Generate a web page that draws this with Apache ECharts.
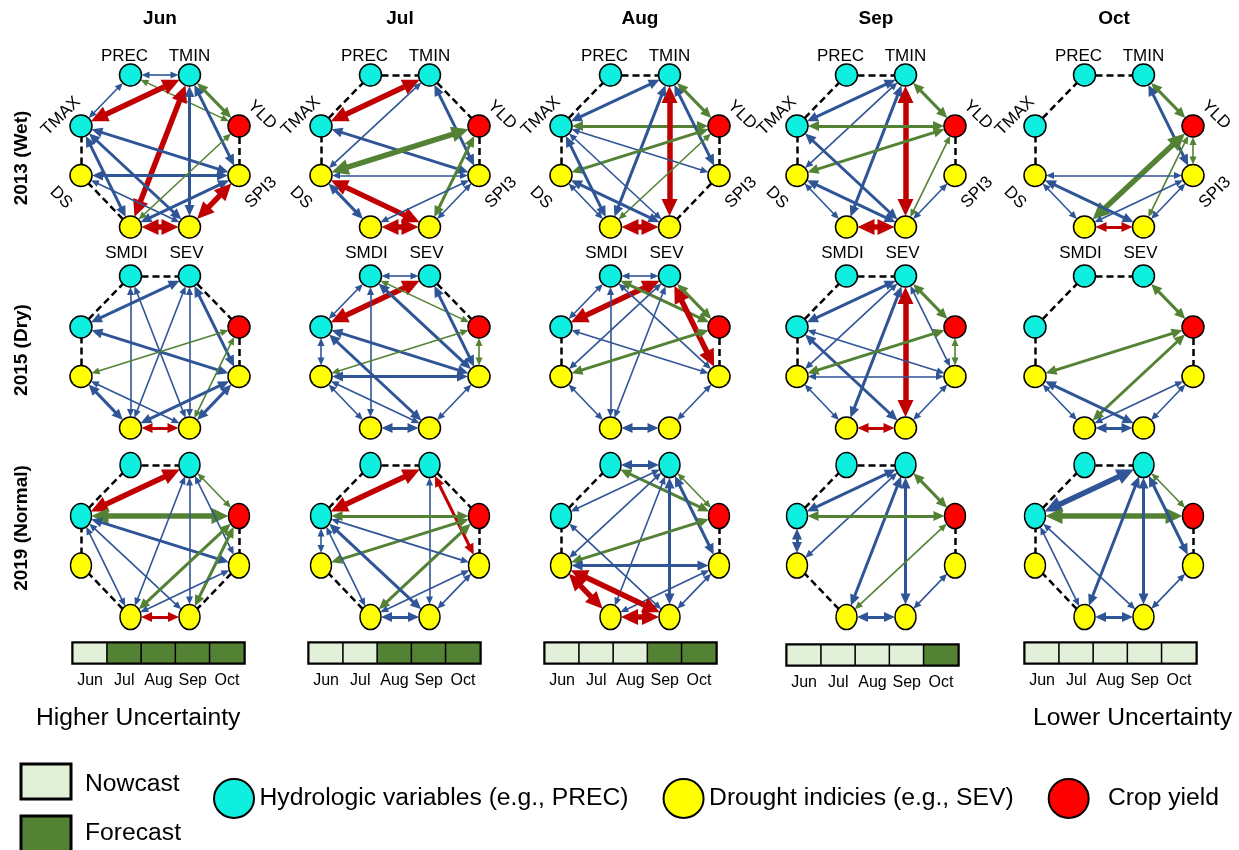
<!DOCTYPE html>
<html>
<head>
<meta charset="utf-8">
<script src="https://cdn.jsdelivr.net/npm/echarts@6.0.0/dist/echarts.min.js"></script>
<style>
  html, body { margin: 0; padding: 0; background: #fff; }
  #main { width: 1239px; height: 850px; }
</style>
</head>
<body>
<div id="main"></div>
<script>
  var months = ['Jun', 'Jul', 'Aug', 'Sep', 'Oct'];
  var years = ['2013 (Wet)', '2015 (Dry)', '2019 (Normal)'];
  var kinds = ['Hydrologic variables (e.g., PREC)', 'Drought indicies (e.g., SEV)', 'Crop yield'];
  // nodes in ring order, clockwise from top-left
  var ring = ['PREC', 'TMIN', 'YLD', 'SPI3', 'SEV', 'SMDI', 'DS', 'TMAX'];
  var nodeKind = { PREC: 0, TMIN: 0, TMAX: 0, YLD: 2, DS: 1, SPI3: 1, SMDI: 1, SEV: 1 };
  var nodeXY = {
    PREC: [-29.5, -76], TMIN: [29.5, -76],
    TMAX: [-79, -25], YLD: [79, -25],
    DS: [-79, 24.5], SPI3: [79, 24.5],
    SMDI: [-29.5, 76], SEV: [29.5, 76]
  };
  // 1 = forecast month, 0 = nowcast month (one bar per column)
  var forecast = [
    [0, 1, 1, 1, 1],
    [0, 0, 1, 1, 1],
    [0, 0, 0, 1, 1],
    [0, 0, 0, 0, 1],
    [0, 0, 0, 0, 0]
  ];

  // links: [node, node, b=blue / g=green / r=red, strength 1..3]
  var links2013 = [
    [['PREC', 'TMIN', 'b', 1], ['PREC', 'TMAX', 'b', 1], ['TMIN', 'YLD', 'g', 2], ['PREC', 'YLD', 'g', 1],
     ['TMAX', 'TMIN', 'r', 3], ['TMIN', 'SMDI', 'r', 3], ['TMIN', 'SEV', 'b', 2], ['TMIN', 'SPI3', 'b', 2],
     ['TMAX', 'SPI3', 'b', 2], ['TMAX', 'SMDI', 'b', 2], ['TMAX', 'SEV', 'b', 2], ['DS', 'SPI3', 'b', 2],
     ['DS', 'SEV', 'b', 1], ['SMDI', 'SPI3', 'b', 2], ['SMDI', 'YLD', 'g', 1], ['SMDI', 'SEV', 'r', 3],
     ['SEV', 'SPI3', 'r', 3]],
    [['TMAX', 'TMIN', 'r', 3], ['TMIN', 'DS', 'b', 1], ['TMIN', 'SPI3', 'b', 2], ['TMAX', 'SPI3', 'b', 2],
     ['YLD', 'DS', 'g', 3], ['DS', 'SPI3', 'b', 1], ['YLD', 'SEV', 'g', 2], ['DS', 'SEV', 'r', 3],
     ['DS', 'SMDI', 'b', 2], ['SMDI', 'SPI3', 'b', 1], ['SEV', 'SPI3', 'b', 1], ['SMDI', 'SEV', 'r', 3]],
    [['TMAX', 'TMIN', 'b', 2], ['TMIN', 'YLD', 'g', 2], ['TMAX', 'YLD', 'g', 2], ['TMIN', 'SEV', 'r', 3],
     ['TMIN', 'SMDI', 'b', 2], ['TMIN', 'SPI3', 'b', 2], ['TMAX', 'SPI3', 'b', 1], ['YLD', 'DS', 'g', 2],
     ['YLD', 'SMDI', 'g', 1], ['TMAX', 'SMDI', 'b', 2], ['TMAX', 'SEV', 'b', 1], ['DS', 'SEV', 'b', 2],
     ['DS', 'SMDI', 'b', 1], ['SMDI', 'SEV', 'r', 3]],
    [['TMIN', 'TMAX', 'b', 2], ['TMIN', 'DS', 'b', 1], ['TMIN', 'SMDI', 'b', 2], ['TMIN', 'SEV', 'r', 3],
     ['TMIN', 'YLD', 'g', 2], ['TMAX', 'YLD', 'g', 2], ['YLD', 'DS', 'g', 2], ['YLD', 'SEV', 'g', 1],
     ['TMAX', 'SEV', 'b', 2], ['DS', 'SEV', 'b', 2], ['DS', 'SMDI', 'b', 1], ['SEV', 'SPI3', 'b', 1],
     ['SMDI', 'SEV', 'r', 3]],
    [['TMIN', 'YLD', 'g', 2], ['TMIN', 'SPI3', 'b', 2], ['YLD', 'SPI3', 'g', 1], ['YLD', 'SMDI', 'g', 3],
     ['YLD', 'SEV', 'g', 1], ['DS', 'SPI3', 'b', 1], ['DS', 'SEV', 'b', 2], ['DS', 'SMDI', 'b', 1],
     ['SMDI', 'SPI3', 'b', 1], ['SEV', 'SPI3', 'b', 1], ['SMDI', 'SEV', 'r', 2]]
  ];
  var links2015 = [
    [['TMIN', 'TMAX', 'b', 2], ['PREC', 'SMDI', 'b', 1], ['PREC', 'SEV', 'b', 1], ['TMIN', 'SMDI', 'b', 1],
     ['TMIN', 'SEV', 'b', 1], ['TMIN', 'SPI3', 'b', 2], ['TMAX', 'SPI3', 'b', 2], ['YLD', 'DS', 'g', 1],
     ['YLD', 'SEV', 'g', 1], ['DS', 'SEV', 'b', 1], ['DS', 'SMDI', 'b', 2], ['SMDI', 'SPI3', 'b', 2],
     ['SEV', 'SPI3', 'b', 2], ['SMDI', 'SEV', 'r', 2]],
    [['PREC', 'TMIN', 'b', 1], ['PREC', 'TMAX', 'b', 1], ['TMAX', 'DS', 'b', 1], ['YLD', 'SPI3', 'g', 1],
     ['SEV', 'SPI3', 'b', 1], ['SMDI', 'SEV', 'b', 2], ['DS', 'SMDI', 'b', 1], ['TMAX', 'TMIN', 'r', 3],
     ['PREC', 'YLD', 'g', 1], ['PREC', 'SMDI', 'b', 1], ['PREC', 'SPI3', 'b', 2], ['TMIN', 'SPI3', 'b', 2],
     ['TMAX', 'SPI3', 'b', 2], ['YLD', 'DS', 'g', 1], ['DS', 'SPI3', 'b', 2], ['TMAX', 'SEV', 'b', 2],
     ['DS', 'SEV', 'b', 1]],
    [['PREC', 'TMIN', 'b', 1], ['PREC', 'TMAX', 'b', 1], ['TMIN', 'YLD', 'g', 2], ['SEV', 'SPI3', 'b', 1],
     ['SMDI', 'SEV', 'b', 2], ['DS', 'SMDI', 'b', 1], ['TMIN', 'TMAX', 'r', 3], ['PREC', 'YLD', 'g', 2],
     ['TMIN', 'SPI3', 'r', 3], ['TMIN', 'DS', 'b', 1], ['TMIN', 'SMDI', 'b', 1], ['PREC', 'SMDI', 'b', 1],
     ['PREC', 'SPI3', 'b', 1], ['TMAX', 'SPI3', 'b', 1], ['YLD', 'DS', 'g', 2]],
    [['TMIN', 'YLD', 'g', 2], ['YLD', 'SPI3', 'g', 1], ['SEV', 'SPI3', 'b', 1], ['SMDI', 'SEV', 'r', 2],
     ['DS', 'SMDI', 'b', 1], ['TMIN', 'TMAX', 'b', 2], ['TMIN', 'DS', 'b', 1], ['TMIN', 'SMDI', 'b', 2],
     ['TMIN', 'SEV', 'r', 3], ['TMIN', 'SPI3', 'b', 1], ['TMAX', 'SPI3', 'b', 1], ['TMAX', 'SEV', 'b', 2],
     ['YLD', 'DS', 'g', 2], ['DS', 'SPI3', 'b', 1]],
    [['TMIN', 'YLD', 'g', 2], ['YLD', 'DS', 'g', 2], ['YLD', 'SMDI', 'g', 2], ['DS', 'SEV', 'b', 2],
     ['DS', 'SMDI', 'b', 1], ['SMDI', 'SPI3', 'b', 1], ['SEV', 'SPI3', 'b', 1], ['SMDI', 'SEV', 'b', 2]]
  ];
  var links2019 = [
    [['TMAX', 'TMIN', 'r', 3], ['TMIN', 'YLD', 'g', 1], ['TMAX', 'YLD', 'g', 3], ['TMIN', 'SMDI', 'b', 1],
     ['TMIN', 'SEV', 'b', 1], ['TMIN', 'SPI3', 'b', 1], ['TMAX', 'SPI3', 'b', 2], ['TMAX', 'SMDI', 'b', 1],
     ['TMAX', 'SEV', 'b', 1], ['YLD', 'SMDI', 'g', 2], ['YLD', 'SEV', 'g', 2], ['SMDI', 'SPI3', 'b', 1],
     ['SMDI', 'SEV', 'r', 2]],
    [['TMAX', 'TMIN', 'r', 3], ['TMIN', 'SPI3', 'r', 2], ['TMIN', 'SEV', 'b', 1], ['TMAX', 'YLD', 'g', 2],
     ['TMAX', 'DS', 'b', 1], ['YLD', 'DS', 'g', 2], ['YLD', 'SMDI', 'g', 2], ['TMAX', 'SPI3', 'b', 1],
     ['TMAX', 'SMDI', 'b', 1], ['TMAX', 'SEV', 'b', 2], ['SMDI', 'SPI3', 'b', 1], ['SEV', 'SPI3', 'b', 1],
     ['SMDI', 'SEV', 'b', 2]],
    [['PREC', 'TMIN', 'b', 2], ['TMIN', 'YLD', 'g', 1], ['PREC', 'YLD', 'g', 2], ['TMIN', 'TMAX', 'b', 1],
     ['TMIN', 'DS', 'b', 1], ['TMIN', 'SMDI', 'b', 1], ['TMIN', 'SEV', 'b', 2], ['TMIN', 'SPI3', 'b', 2],
     ['YLD', 'DS', 'g', 2], ['DS', 'SPI3', 'b', 2], ['TMAX', 'SEV', 'b', 1], ['SMDI', 'SPI3', 'b', 1],
     ['SEV', 'SPI3', 'b', 1], ['DS', 'SMDI', 'r', 3], ['DS', 'SEV', 'r', 3], ['SMDI', 'SEV', 'r', 3]],
    [['TMIN', 'TMAX', 'b', 2], ['TMIN', 'DS', 'b', 1], ['TMIN', 'SMDI', 'b', 2], ['TMIN', 'SEV', 'b', 2],
     ['TMIN', 'YLD', 'g', 2], ['TMAX', 'YLD', 'g', 2], ['TMAX', 'DS', 'b', 2], ['YLD', 'SMDI', 'g', 1],
     ['SEV', 'SPI3', 'b', 1], ['SMDI', 'SEV', 'b', 2]],
    [['TMIN', 'YLD', 'g', 1], ['TMIN', 'TMAX', 'b', 3], ['TMAX', 'YLD', 'g', 3], ['TMIN', 'SMDI', 'b', 2],
     ['TMIN', 'SEV', 'b', 2], ['TMIN', 'SPI3', 'b', 2], ['TMAX', 'SMDI', 'b', 1], ['TMAX', 'SEV', 'b', 1],
     ['SEV', 'SPI3', 'b', 1], ['SMDI', 'SEV', 'b', 2]]
  ];

  var FONT = 'Liberation Sans, Arial, sans-serif';
  var kindColors = ['#0FEFDF', '#FFFF00', '#FF0000'];
  var edgeColor = { b: '#2F5597', g: '#548235', r: '#C00000' };
  var lineW = { 1: 1.6, 2: 3, 3: 5.5 };
  var headWH = { 1: [7, 8], 2: [10, 11], 3: [16, 17] };
  var colX = [160, 400, 640, 876, 1114];
  var rowY = [151, 352, 541];
  var barX = [73, 309, 545, 787, 1025];
  var barY = [643, 643, 643, 645, 643];

  // distance from the centre of an elliptic node to its outline along unit vector u
  function rim(u, size) {
    var a = size[0] / 2, b = size[1] / 2;
    return 1 / Math.sqrt(u[0] * u[0] / (a * a) + u[1] * u[1] / (b * b));
  }

  var chart = echarts.init(document.getElementById('main'));
  var grids = [], xAxes = [], yAxes = [], series = [];

  [links2013, links2015, links2019].forEach(function (yearLinks, r) {
    yearLinks.forEach(function (edges, c) {
      var g = grids.length;
      grids.push({ left: colX[c] - 100, top: rowY[r] - 100, width: 200, height: 200, outerBoundsMode: 'none' });
      xAxes.push({ type: 'value', gridIndex: g, min: -100, max: 100, show: false });
      yAxes.push({ type: 'value', gridIndex: g, min: -100, max: 100, show: false, inverse: true });
      var size = r === 2 ? [21, 25] : [22, 22];

      var has = {};
      edges.forEach(function (e) { has[e[0] + '-' + e[1]] = has[e[1] + '-' + e[0]] = true; });
      var dashed = [];
      ring.forEach(function (n, i) {
        var m = ring[(i + 1) % ring.length];
        if (!has[n + '-' + m]) dashed.push({ source: n, target: m });
      });

      var arrows = edges.map(function (e) {
        var a = nodeXY[e[0]], b = nodeXY[e[1]];
        var dx = b[0] - a[0], dy = b[1] - a[1];
        var L = Math.sqrt(dx * dx + dy * dy);
        var u = [dx / L, dy / L];
        var head = headWH[e[3]];
        var off = rim(u, size) + head[1] / 2;
        return {
          coords: [[a[0] + u[0] * off, a[1] + u[1] * off], [b[0] - u[0] * off, b[1] - u[1] * off]],
          lineStyle: { color: edgeColor[e[2]], width: lineW[e[3]], opacity: 1 },
          symbolSize: [head, head]
        };
      });

      series.push({
        type: 'lines',
        coordinateSystem: 'cartesian2d',
        xAxisIndex: g, yAxisIndex: g,
        z: 2, silent: true, animation: false,
        symbol: ['triangle', 'triangle'],
        symbolSize: 10,
        lineStyle: { opacity: 1 },
        data: arrows
      });
      series.push({
        type: 'graph',
        coordinateSystem: 'cartesian2d',
        xAxisIndex: g, yAxisIndex: g,
        z: 3, silent: true, animation: false,
        symbolSize: size,
        categories: kinds.map(function (k, i) { return { name: k, itemStyle: { color: kindColors[i] } }; }),
        itemStyle: { borderColor: '#000', borderWidth: 1.5 },
        label: { show: false },
        edgeSymbol: ['none', 'none'],
        lineStyle: { color: '#000', width: 2.5, type: [7, 4], opacity: 1 },
        data: ring.map(function (n) { return { name: n, value: nodeXY[n], category: nodeKind[n] }; }),
        links: dashed
      });
    });
  });

  var heatIdx = [];
  forecast.forEach(function (row, c) {
    var g = grids.length;
    grids.push({
      left: barX[c], top: barY[c], width: 171, height: 20, outerBoundsMode: 'none',
      show: true, borderColor: '#000', borderWidth: 3.5, backgroundColor: 'transparent'
    });
    xAxes.push({
      type: 'category', gridIndex: g, data: months,
      axisLine: { show: false }, axisTick: { show: false }, splitLine: { show: false },
      axisLabel: { interval: 0, fontSize: 16, color: '#000', margin: 10, fontFamily: FONT }
    });
    yAxes.push({ type: 'category', gridIndex: g, data: [''], show: false });
    heatIdx.push(series.length);
    series.push({
      type: 'heatmap', xAxisIndex: g, yAxisIndex: g, silent: true, animation: false,
      itemStyle: { borderColor: '#000', borderWidth: 1.5 },
      data: row.map(function (v, i) { return [i, 0, v]; })
    });
  });

  var option = {
    animation: false,
    backgroundColor: '#fff',
    textStyle: { fontFamily: FONT },
    grid: grids,
    xAxis: xAxes,
    yAxis: yAxes,
    visualMap: {
      type: 'piecewise', show: false, seriesIndex: heatIdx, dimension: 2,
      pieces: [{ value: 0, color: '#E2F0D9' }, { value: 1, color: '#548235' }]
    },
    legend: {
      left: 213, top: 778, padding: 0, itemGap: 34, itemWidth: 41, itemHeight: 39,
      icon: 'path://M0,20A20,19.5 0 1,1 40,20A20,19.5 0 1,1 0,20Z',
      selectedMode: false,
      itemStyle: { borderColor: '#000', borderWidth: 2 },
      textStyle: { fontSize: 24.7, color: '#000', fontFamily: FONT },
      formatter: function (name) { return name === 'Crop yield' ? '  ' + name : name; },
      data: kinds
    },
    series: series
  };
  chart.setOption(option);

  // text drawn around the panels
  var labelPlace = {
    PREC: [-6, -19, 0], TMIN: [0, -19, 0],
    TMAX: [-20, -10, 1], YLD: [23, -11, -1],
    DS: [-20, 22, -1], SPI3: [22, 17, 1],
    SMDI: [-4, 26, 0], SEV: [-3, 26, 0]
  };
  var graphics = [];
  function text(x, y, str, size, weight, rot, align) {
    graphics.push({
      type: 'text', x: x, y: y, rotation: rot || 0, silent: true,
      style: {
        text: str, fontSize: size, fontWeight: weight || 'normal', fontFamily: FONT,
        fill: '#000', align: align || 'center', verticalAlign: 'middle'
      }
    });
  }
  months.forEach(function (m, c) {
    var p = chart.convertToPixel({ gridIndex: c }, [0, 0]);
    text(p[0], 19, m, 19, 'bold');
    ring.forEach(function (n) {
      var q = chart.convertToPixel({ gridIndex: c }, nodeXY[n]);
      var lp = labelPlace[n];
      text(q[0] + lp[0], q[1] + lp[1], n, 17, 'normal', lp[2] * Math.PI / 4);
    });
  });
  var rowMid = [158, 350, 528];
  years.forEach(function (y, r) {
    text(22, rowMid[r], y, 19, 'bold', Math.PI / 2);
  });
  text(36, 718, 'Higher Uncertainty', 24.7, 'normal', 0, 'left');
  text(1232, 718, 'Lower Uncertainty', 24.7, 'normal', 0, 'right');
  graphics.push({ type: 'rect', silent: true, shape: { x: 21, y: 764, width: 50, height: 35 },
    style: { fill: '#E2F0D9', stroke: '#000', lineWidth: 3 } });
  graphics.push({ type: 'rect', silent: true, shape: { x: 21, y: 816, width: 50, height: 40 },
    style: { fill: '#548235', stroke: '#000', lineWidth: 3 } });
  text(85, 784, 'Nowcast', 24.7, 'normal', 0, 'left');
  text(85, 833, 'Forecast', 24.7, 'normal', 0, 'left');

  chart.setOption({ graphic: graphics });
</script>
</body>
</html>
